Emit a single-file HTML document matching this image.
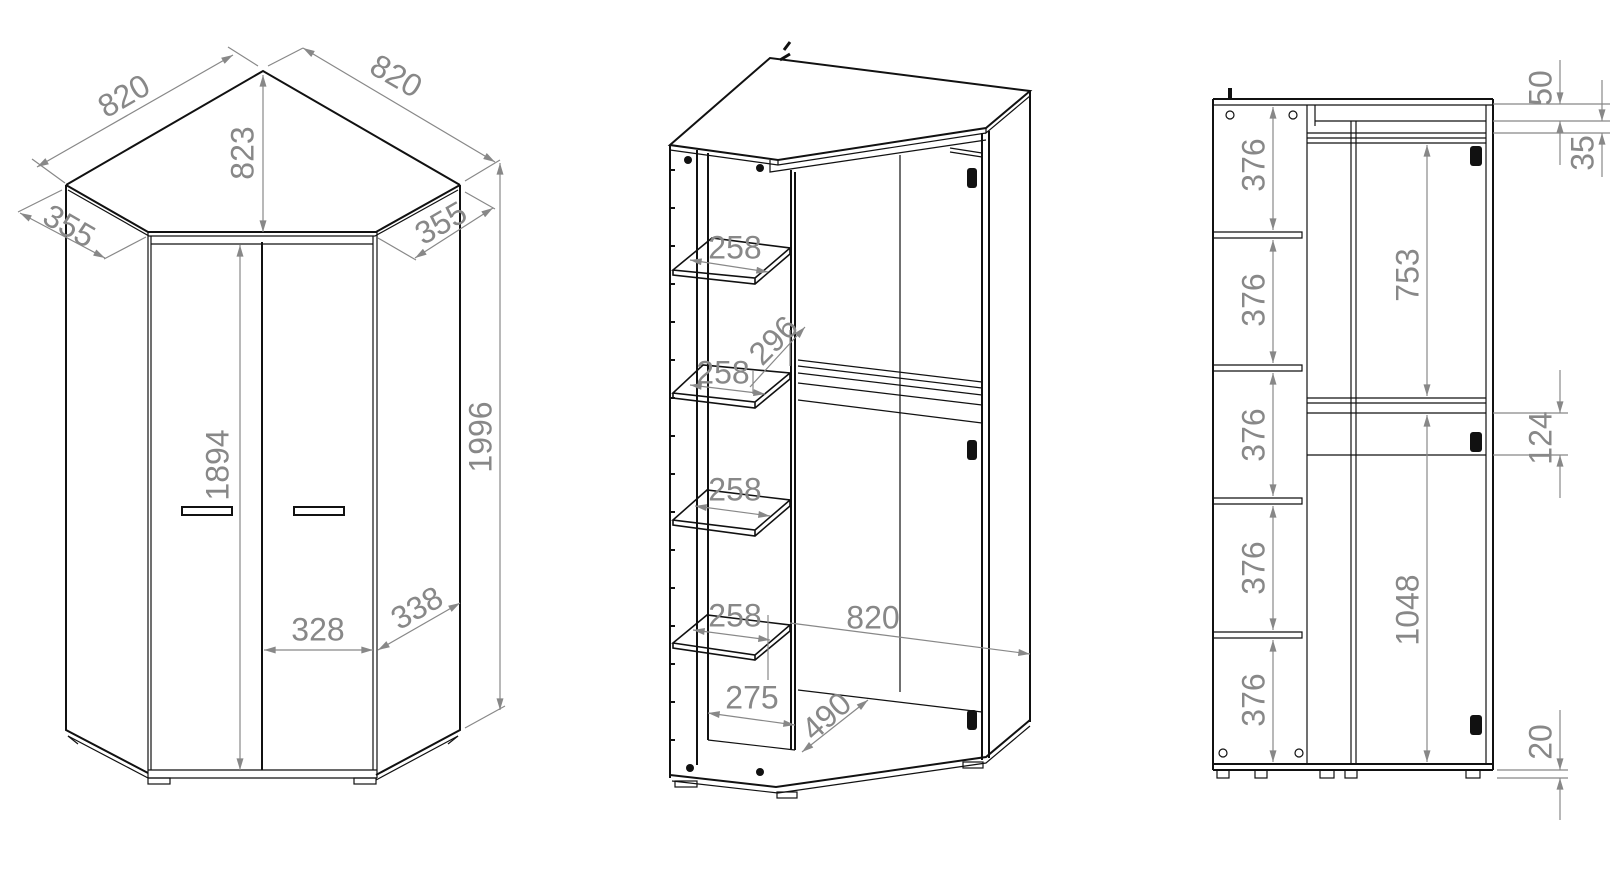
<!DOCTYPE html>
<html><head><meta charset="utf-8"><style>
html,body{margin:0;padding:0;background:#fff;width:1622px;height:885px;overflow:hidden}
svg{display:block}
.k{stroke:#111;stroke-width:2;fill:none}
.t{stroke:#111;stroke-width:1.2;fill:none}
.d{stroke:#888;stroke-width:1.2;fill:none}
.x{font-family:"Liberation Sans",sans-serif;font-size:32px;fill:#888;text-anchor:middle;dominant-baseline:middle}
</style></head><body>
<svg width="1622" height="885" viewBox="0 0 1622 885" xmlns="http://www.w3.org/2000/svg">
<defs>
<marker id="a" viewBox="0 0 10 6" refX="10" refY="3" markerWidth="16" markerHeight="7" markerUnits="userSpaceOnUse" orient="auto-start-reverse"><path d="M0,0L10,3L0,6z" fill="#888"/></marker>
</defs>
<g id="left">
<path class="k" d="M66,185 L263,71 L460,185"/>
<path class="k" d="M66,185 L148,232 L376,232 L460,185"/>
<path class="t" d="M68,190 L149,236 L375,236 L458,190"/>
<path class="t" d="M151,244 L373,244"/>
<path class="k" d="M66,185 V730 L148,773 M460,185 V730 L376,775"/>
<path class="t" d="M68,736 L148,778 M458,736 L376,780"/>
<path class="t" d="M148,232 V778 M151,236 V770 M373,236 V770 M377,232 V778"/>
<path class="k" d="M262,242 V770"/>
<path class="t" d="M148,770 H377 M148,778 H377"/>
<rect class="t" x="148" y="778" width="22" height="6"/><rect class="t" x="354" y="778" width="22" height="6"/>
<path class="t" d="M68,736 l10,8 M458,736 l-10,8"/>
<rect class="k" x="182" y="507" width="50" height="8"/><rect class="k" x="294" y="507" width="50" height="8"/>
<path class="d" d="M37,167 L233,55" marker-start="url(#a)" marker-end="url(#a)"/>
<path class="d" d="M32,159 L65,183 M228,47 L258,66"/>
<text class="x" transform="translate(125,98) rotate(-30)">820</text>
<path class="d" d="M303,48 L495,162" marker-start="url(#a)" marker-end="url(#a)"/>
<path class="d" d="M268,66 L303,48 M465,181 L500,160"/>
<text class="x" transform="translate(395,78) rotate(30)">820</text>
<path class="d" d="M263,75 V232" marker-start="url(#a)" marker-end="url(#a)"/>
<text class="x" transform="translate(245,153) rotate(-90)">823</text>
<path class="d" d="M20,213 L105,258" marker-start="url(#a)" marker-end="url(#a)"/>
<path class="d" d="M18,212 L62,190 M104,259 L146,237"/>
<text class="x" transform="translate(68,228) rotate(30)">355</text>
<path class="d" d="M415,258 L493,208" marker-start="url(#a)" marker-end="url(#a)"/>
<path class="d" d="M378,238 L416,260 M465,192 L495,209"/>
<text class="x" transform="translate(442,225) rotate(-30)">355</text>
<path class="d" d="M500,163 V710" marker-start="url(#a)" marker-end="url(#a)"/>
<path class="d" d="M465,728 L505,706"/>
<text class="x" transform="translate(483,437) rotate(-90)">1996</text>
<path class="d" d="M240,245 V770" marker-start="url(#a)" marker-end="url(#a)"/>
<text class="x" transform="translate(220,465) rotate(-90)">1894</text>
<path class="d" d="M264,650 H373" marker-start="url(#a)" marker-end="url(#a)"/>
<text class="x" x="318" y="632">328</text>
<path class="d" d="M378,650 L460,603" marker-start="url(#a)" marker-end="url(#a)"/>
<text class="x" transform="translate(418,610) rotate(-30)">338</text>
</g>
<g id="mid">
<path class="k" d="M670,145 L770,58 L1030,91 L986,128 L778,160 Z"/>
<path class="t" d="M670,150 L778,165 L986,133 M778,160 V165 M986,128 V133 L1030,96 V91"/>
<path class="t" d="M770,160 V172 L986,140"/>
<path class="t" d="M784,50 l6,-8 M780,60 l10,-6" style="stroke-width:3"/>
<path class="k" d="M670,145 V778 M697,150 V765 M708,153 V740 M795,172 V750 M791,170 V750"/>
<path class="t" d="M900,155 V692"/>
<path class="k" d="M982,133 V760 M989,131 V758 M1030,91 V722"/>
<path class="t" d="M950,148 L982,153 M950,152 L982,157"/>
<path class="t" d="M798,360 L982,382 M798,366 L982,388 M798,373 L982,395 M798,383 L982,405 M798,400 L982,423"/>
<g class="t" style="stroke-width:1.6">
<path d="M673,270 L712,238 L790,248 L755,278 Z M673,270 V275 L755,284 L790,254 V248 M755,278 V284"/>
<path d="M673,393 L703,365 L790,373 L755,402 Z M673,393 V398 L755,408 L790,379 V373 M755,402 V408"/>
<path d="M673,520 L707,490 L790,500 L755,530 Z M673,520 V525 L755,536 L790,506 V500 M755,530 V536"/>
<path d="M673,643 L707,615 L790,625 L755,655 Z M673,643 V648 L755,660 L790,631 V625 M755,655 V660"/>
</g>
<path class="t" d="M708,740 L795,750 M798,690 L982,712"/>
<path class="k" d="M670,775 L776,787 L986,757 L1030,720"/>
<path class="t" d="M672,781 L778,793 L986,763 L1030,726"/>
<rect class="t" x="675" y="781" width="22" height="6"/><rect class="t" x="777" y="792" width="20" height="6"/><rect class="t" x="963" y="762" width="20" height="6"/>
<g fill="#111"><circle cx="690" cy="768" r="4"/><circle cx="760" cy="772" r="4"/><circle cx="688" cy="160" r="4"/><circle cx="760" cy="168" r="4"/></g>
<g fill="#111"><rect x="967" y="168" width="10" height="20" rx="3"/><rect x="967" y="440" width="10" height="20" rx="3"/><rect x="967" y="710" width="10" height="20" rx="3"/></g>
<g class="t" style="stroke-width:2"><path d="M670,170h5M670,208h5M670,246h5M670,284h5M670,322h5M670,360h5M670,398h5M670,436h5M670,474h5M670,512h5M670,550h5M670,588h5M670,626h5M670,664h5M670,702h5M670,740h5"/></g>
<path class="d" d="M690,260 L768,272" marker-start="url(#a)" marker-end="url(#a)"/>
<text class="x" x="735" y="250">258</text>
<path class="d" d="M690,385 L765,394" marker-start="url(#a)" marker-end="url(#a)"/>
<text class="x" x="723" y="375">258</text>
<path class="d" d="M750,387 L805,327" marker-end="url(#a)"/>
<path class="d" d="M790,330 V366 M753,394 V370"/>
<text class="x" transform="translate(775,342) rotate(-45)">296</text>
<path class="d" d="M695,506 L770,516" marker-start="url(#a)" marker-end="url(#a)"/>
<text class="x" x="735" y="492">258</text>
<path class="d" d="M693,630 L770,640" marker-start="url(#a)" marker-end="url(#a)"/>
<text class="x" x="735" y="618">258</text>
<path class="d" d="M768,615 V680"/>
<path class="d" d="M790,623 L1030,654" marker-end="url(#a)"/>
<text class="x" x="873" y="620">820</text>
<path class="d" d="M708,713 L795,725" marker-start="url(#a)" marker-end="url(#a)"/>
<text class="x" x="752" y="700">275</text>
<path class="d" d="M802,752 L868,700" marker-start="url(#a)" marker-end="url(#a)"/>
<text class="x" transform="translate(828,718) rotate(-42)">490</text>
</g>
<g id="right">
<path class="k" d="M1213,99 V770 M1493,99 V770 M1213,99 H1493"/>
<path class="t" d="M1213,105 H1493 M1307,105 V764 M1486,105 V764 M1351,121 V764 M1356,121 V764"/>
<path class="t" d="M1315,121 H1486 M1315,105 V126 M1307,133 H1486 M1307,138 H1486 M1307,143 H1486"/>
<path class="t" d="M1307,398 H1486 M1307,403 H1486 M1307,413 H1486 M1307,455 H1486"/>
<path class="t" d="M1213,232 H1302 V238 H1213 M1213,365 H1302 V371 H1213 M1213,498 H1302 V504 H1213 M1213,632 H1302 V638 H1213"/>
<path class="k" d="M1213,764 H1493 M1213,770 H1493"/>
<g class="t"><rect x="1217" y="770" width="12" height="8"/><rect x="1255" y="770" width="12" height="8"/><rect x="1320" y="770" width="14" height="8"/><rect x="1345" y="770" width="12" height="8"/><rect x="1466" y="770" width="14" height="8"/></g>
<g fill="#111"><rect x="1470" y="146" width="12" height="20" rx="3"/><rect x="1470" y="432" width="12" height="20" rx="3"/><rect x="1470" y="715" width="12" height="20" rx="3"/><rect x="1228" y="88" width="4" height="12"/></g>
<g class="t"><circle cx="1230" cy="115" r="4"/><circle cx="1293" cy="115" r="4"/><circle cx="1223" cy="753" r="4"/><circle cx="1299" cy="753" r="4"/></g>
<g class="d">
<path d="M1273,107 V230" marker-start="url(#a)" marker-end="url(#a)"/>
<path d="M1273,240 V363" marker-start="url(#a)" marker-end="url(#a)"/>
<path d="M1273,373 V496" marker-start="url(#a)" marker-end="url(#a)"/>
<path d="M1273,506 V630" marker-start="url(#a)" marker-end="url(#a)"/>
<path d="M1273,640 V762" marker-start="url(#a)" marker-end="url(#a)"/>
<path d="M1427,145 V396" marker-start="url(#a)" marker-end="url(#a)"/>
<path d="M1427,415 V762" marker-start="url(#a)" marker-end="url(#a)"/>
<path d="M1493,104 H1610 M1493,121 H1610 M1493,133 H1610 M1493,413 H1568 M1493,455 H1568 M1497,770 H1568 M1497,778 H1568"/>
<path d="M1560,60 V104" marker-end="url(#a)"/><path d="M1560,165 V121" marker-end="url(#a)"/>
<path d="M1602,80 V121" marker-end="url(#a)"/><path d="M1602,177 V133" marker-end="url(#a)"/>
<path d="M1560,370 V413" marker-end="url(#a)"/><path d="M1560,498 V455" marker-end="url(#a)"/>
<path d="M1560,710 V770" marker-end="url(#a)"/><path d="M1560,820 V778" marker-end="url(#a)"/>
</g>
<text class="x" transform="translate(1256,165) rotate(-90)">376</text>
<text class="x" transform="translate(1256,300) rotate(-90)">376</text>
<text class="x" transform="translate(1256,435) rotate(-90)">376</text>
<text class="x" transform="translate(1256,568) rotate(-90)">376</text>
<text class="x" transform="translate(1256,700) rotate(-90)">376</text>
<text class="x" transform="translate(1410,275) rotate(-90)">753</text>
<text class="x" transform="translate(1410,610) rotate(-90)">1048</text>
<text class="x" transform="translate(1543,88) rotate(-90)">50</text>
<text class="x" transform="translate(1585,153) rotate(-90)">35</text>
<text class="x" transform="translate(1543,438) rotate(-90)">124</text>
<text class="x" transform="translate(1543,742) rotate(-90)">20</text>
</g>
</svg>
</body></html>
